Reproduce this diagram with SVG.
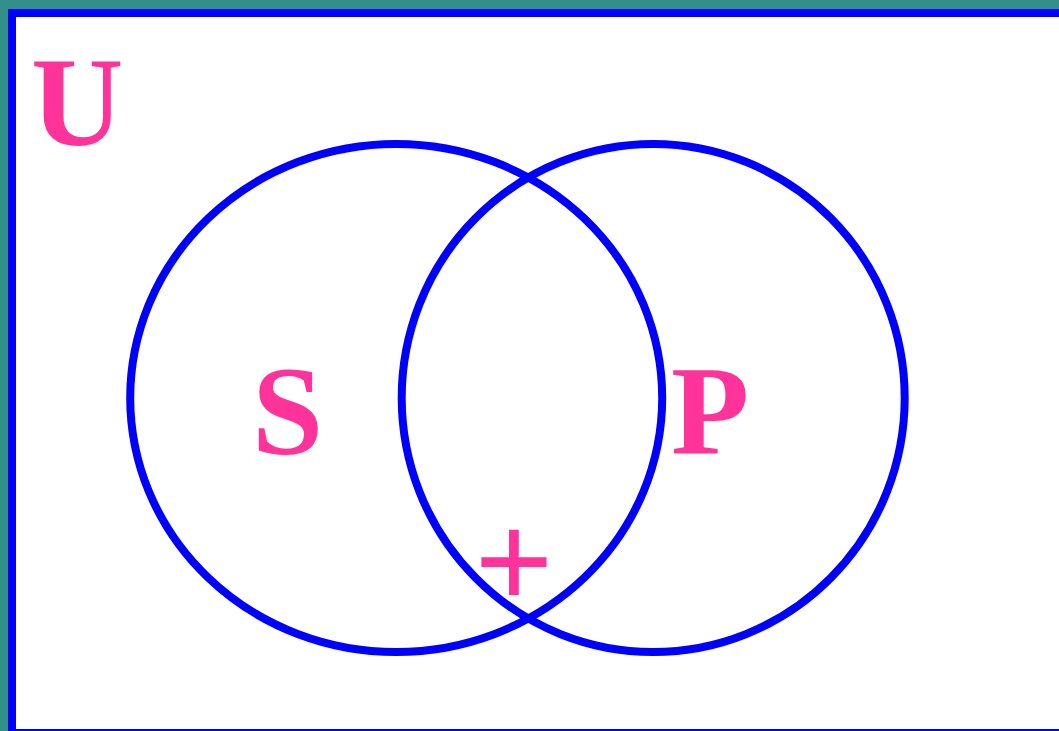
<svg xmlns="http://www.w3.org/2000/svg" width="1059" height="731" viewBox="0 0 1059 731">
  <style>
    .set { fill: none; stroke: #0000FF; stroke-width: 8; }
  </style>
  <rect x="0" y="0" width="1059" height="731" fill="#31918A"/>
  <g id="universe">
    <rect x="12" y="13" width="1100" height="720" fill="#FFFFFF" stroke="#0000FF" stroke-width="8"/>
    <text x="31" y="145" font-family="Liberation Serif" font-weight="bold" font-size="128" fill="#FF3399">U</text>
  </g>
  <g id="set-S">
    <ellipse class="set" cx="396.2" cy="398" rx="266" ry="254"/>
    <text x="252" y="454" font-family="Liberation Serif" font-weight="bold" font-size="128" fill="#FF3399">S</text>
  </g>
  <g id="set-P">
    <ellipse class="set" cx="653.2" cy="398" rx="251.5" ry="254"/>
    <text x="671" y="454" font-family="Liberation Serif" font-weight="bold" font-size="128" fill="#FF3399">P</text>
  </g>
  <g id="marker-plus">
    <text x="474" y="609" font-family="Liberation Serif" font-weight="bold" font-size="140" fill="#FF3399">+</text>
  </g>
  <g id="connectors"></g>
</svg>
